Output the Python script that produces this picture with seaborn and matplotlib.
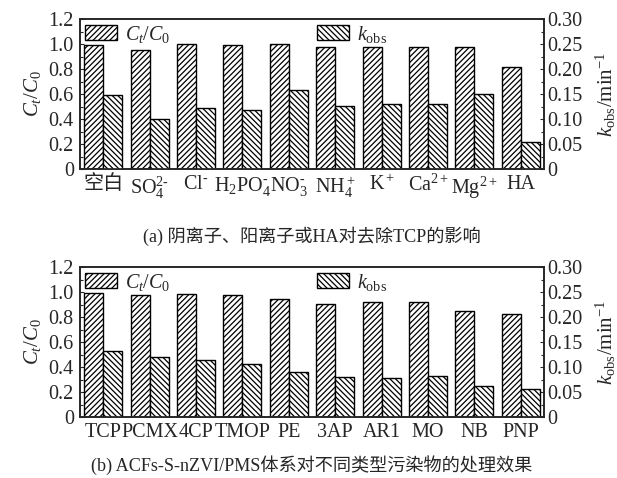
import matplotlib
matplotlib.use("Agg")
import matplotlib.pyplot as plt
from matplotlib.patches import Patch
from matplotlib.ticker import MultipleLocator, FuncFormatter
import seaborn as sns
import pandas as pd
import numpy as np

# panel (a)
cats_a = ["空白", "SO$_4^{2\\text{-}}$", "Cl$^{\\text{-}}$", "H$_2$PO$_4^{\\text{-}}$", "NO$_3^{\\text{-}}$",
          "NH$_4^+$", "K$^+$", "Ca$^{2+}$", "Mg$^{2+}$", "HA"]
ct_a = [0.99, 0.95, 1.00, 0.99, 1.00, 0.975, 0.98, 0.98, 0.98, 0.815]
k_a = [0.148, 0.101, 0.123, 0.119, 0.158, 0.126, 0.131, 0.131, 0.150, 0.055]

# panel (b)
cats_b = ["TCP", "PCMX", "4CP", "TMOP", "PE", "3AP", "AR1", "MO", "NB", "PNP"]
ct_b = [0.995, 0.973, 0.981, 0.973, 0.941, 0.904, 0.92, 0.917, 0.848, 0.821]
k_b = [0.133, 0.121, 0.115, 0.106, 0.091, 0.081, 0.078, 0.083, 0.063, 0.056]

captions = ["(a) 阴离子、阳离子或HA对去除TCP的影响",
            "(b) ACFs-S-nZVI/PMS体系对不同类型污染物的处理效果"]

sns.set_style("ticks")
plt.rcParams["font.family"] = ["Liberation Serif", "Noto Sans CJK SC"]
plt.rcParams["mathtext.fontset"] = "custom"
plt.rcParams["mathtext.rm"] = "Liberation Serif"
plt.rcParams["mathtext.it"] = "Liberation Serif:italic"
plt.rcParams["hatch.linewidth"] = 0.9
plt.rcParams["xtick.direction"] = "in"
plt.rcParams["ytick.direction"] = "in"

FS = 14.5
fig = plt.figure(figsize=(6.17, 4.78), dpi=100)
boxes = [[0.1297, 0.6464, 0.752, 0.3138], [0.1297, 0.1276, 0.752, 0.3138]]
lab_ct = "$C_t/C_0$"
lab_k = "$k_{\\rm obs}$"
order = [lab_ct, lab_k]
pal = {lab_ct: "white", lab_k: "white"}
hatches = {lab_ct: "//////", lab_k: "\\\\\\\\\\\\"}

for i, (cats, ct, kk) in enumerate([(cats_a, ct_a, k_a), (cats_b, ct_b, k_b)]):
    ax = fig.add_axes(boxes[i])
    ax2 = ax.twinx()
    df = pd.DataFrame({"cat": cats * 2,
                       "series": [lab_ct] * len(cats) + [lab_k] * len(cats),
                       "val": ct + kk})
    sns.barplot(data=df[df.series == lab_ct], x="cat", y="val", hue="series",
                hue_order=order, palette=pal, order=cats, width=0.82, dodge=True,
                edgecolor="black", linewidth=1, ax=ax, legend=False)
    sns.barplot(data=df[df.series == lab_k], x="cat", y="val", hue="series",
                hue_order=order, palette=pal, order=cats, width=0.82, dodge=True,
                edgecolor="black", linewidth=1, ax=ax2, legend=False)
    for p in ax.patches:
        p.set_hatch(hatches[lab_ct])
    for p in ax2.patches:
        p.set_hatch(hatches[lab_k])

    ax.set_xlim(-0.5, 9.5)
    ax.set_ylim(0, 1.2)
    ax2.set_ylim(0, 0.30)
    ax.yaxis.set_major_locator(MultipleLocator(0.2))
    ax.yaxis.set_minor_locator(MultipleLocator(0.1))
    ax2.yaxis.set_major_locator(MultipleLocator(0.05))
    ax2.yaxis.set_minor_locator(MultipleLocator(0.025))
    ax.yaxis.set_major_formatter(FuncFormatter(lambda v, p: "0" if abs(v) < 1e-9 else f"{v:.1f}"))
    ax2.yaxis.set_major_formatter(FuncFormatter(lambda v, p: "0" if abs(v) < 1e-9 else f"{v:.2f}"))
    ax.tick_params(axis="y", labelsize=FS, length=3, width=0.8, pad=4.5)
    ax.tick_params(axis="y", which="minor", length=2, width=0.8)
    ax2.tick_params(axis="y", labelsize=FS, length=3, width=0.8, pad=2.5)
    ax2.tick_params(axis="y", which="minor", length=2, width=0.8)
    ax.tick_params(axis="x", labelsize=FS, length=0, pad=4)
    ax.set_xlabel("")
    ax2.set_xlabel("")
    ax.set_ylabel(lab_ct, fontsize=FS + 0.5, labelpad=4)
    ax2.set_ylabel("$k_{\\rm obs}$/min$^{-1}$", fontsize=FS + 0.5, labelpad=8)
    for a in (ax, ax2):
        for s in a.spines.values():
            s.set_linewidth(1.2)
            s.set_visible(True)

    ax.legend(handles=[Patch(facecolor="white", edgecolor="black", hatch=hatches[lab_ct])],
              labels=[lab_ct], loc="upper left", bbox_to_anchor=(-0.015, 1.05),
              frameon=False, fontsize=FS, handlelength=1.6, handleheight=0.8,
              handletextpad=0.4, borderaxespad=0.2)
    ax2.legend(handles=[Patch(facecolor="white", edgecolor="black", hatch=hatches[lab_k])],
               labels=[lab_k], loc="upper left", bbox_to_anchor=(0.485, 1.05),
               frameon=False, fontsize=FS, handlelength=1.6, handleheight=0.8,
               handletextpad=0.4, borderaxespad=0.2)

fig.text(0.505, 1 - 236 / 478, captions[0], ha="center", va="center", fontsize=13.1)
fig.text(0.505, 1 - 465 / 478, captions[1], ha="center", va="center", fontsize=13.1)

fig.savefig("out.png", dpi=100)
